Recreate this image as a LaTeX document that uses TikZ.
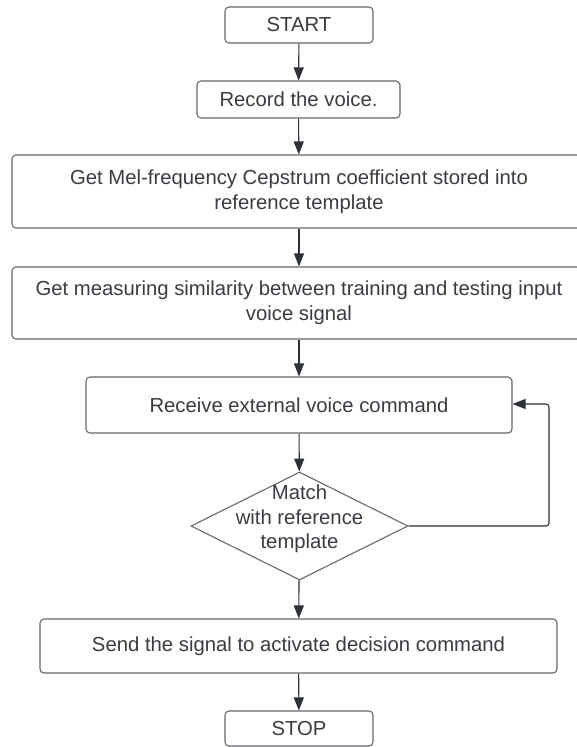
\documentclass[tikz,border=0pt]{standalone}
\usepackage{fontspec}
\setmainfont{Liberation Sans}
\usetikzlibrary{shapes.geometric,arrows.meta}
\definecolor{boxline}{HTML}{65686E}
\definecolor{ink}{HTML}{3A3C42}
\definecolor{arrowink}{HTML}{2E3138}
\tikzset{
  stepbox/.style={draw=boxline, line width=1.1pt, rounded corners=4pt, fill=white,
    text=ink, font=\fontsize{20.3}{25}\selectfont, align=center, inner sep=0pt},
  flow/.style={draw=arrowink, line width=1.1pt, -{Triangle[length=13pt,width=10pt]}},
}
\begin{document}
\begin{tikzpicture}[x=1pt,y=1pt]
  \useasboundingbox[fill=white] (0,0) rectangle (576,-747);

  % boxes of the flow, top to bottom
  \node[stepbox, minimum width=148pt, minimum height=36pt] (start) at (299,-25) {START};
  \node[stepbox, minimum width=203pt, minimum height=37pt] (record) at (298.5,-99.5) {Record the voice.};
  \node[stepbox, minimum width=574pt, minimum height=73pt] (mfcc) at (299,-191.5)
    {Get Mel-frequency Cepstrum coefficient stored into\\reference template};
  \node[stepbox, minimum width=574pt, minimum height=72pt] (sim) at (299,-303)
    {Get measuring similarity between training and testing input\\voice signal};
  \node[stepbox, minimum width=426pt, minimum height=56pt] (recv) at (299,-405)
    {Receive external voice command};

  % decision
  \node[diamond, draw=boxline, line width=1.1pt, fill=white, inner sep=0pt, aspect=2,
        minimum width=217pt, minimum height=108pt] (match) at (299.5,-526) {};
  \node[text=ink, font=\fontsize{20.3}{24.5}\selectfont, align=center] (matchtxt) at (299.5,-519)
    {Match\\with reference\\template};

  \node[stepbox, minimum width=517pt, minimum height=54pt] (send) at (298.5,-646)
    {Send the signal to activate decision command};
  \node[stepbox, minimum width=148pt, minimum height=35pt] (stop) at (299,-728.5) {STOP};

  % connectors
  \draw[flow] (start) -- (record);
  \draw[flow] (record) -- (mfcc);
  \draw[flow] (mfcc) -- (sim);
  \draw[flow] (sim) -- (recv);
  \draw[flow] (recv) -- (match);
  \draw[flow] (match) -- (send);
  \draw[flow] (send) -- (stop);

  % loop back from the decision to the command input
  \coordinate (loopx) at (549,0);
  \coordinate (loopin) at ([yshift=1pt]recv.east);
  \draw[flow, rounded corners=3pt] (match.east) -- (match.east -| loopx) |- (loopin);
\end{tikzpicture}
\end{document}
